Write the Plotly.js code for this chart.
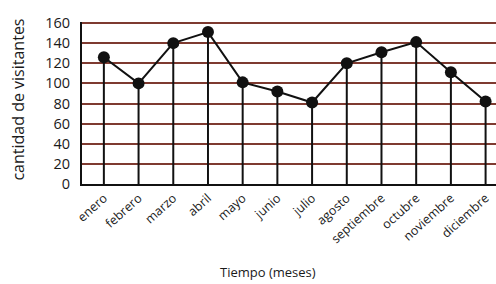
<!DOCTYPE html>
<html><head><meta charset="utf-8">
<script src="https://cdn.plot.ly/plotly-3.0.1.min.js"></script>
<style>html,body{margin:0;padding:0;background:#fff;}#chart{width:496px;height:284px;}</style>
</head><body><div id="chart"></div>
<script>
const months = ["enero","febrero","marzo","abril","mayo","junio","julio","agosto","septiembre","octubre","noviembre","diciembre"];
const visitors = [126, 100, 140, 151, 101, 92, 81, 120, 131, 141, 111, 82];
const yTicks = [0,20,40,60,80,100,120,140,160];

const idx = months.map((m,i)=>i);
const stems = {type:'scatter', mode:'none', x: idx, y: visitors, hoverinfo:'skip', showlegend:false,
  error_y:{type:'data', symmetric:false, array: visitors.map(()=>0), arrayminus: visitors, color:'#111', thickness:2, width:0}};
const line = {type:'scatter', mode:'lines+markers', x: idx, y: visitors,
  line:{color:'#111', width:2}, marker:{color:'#111', size:12}, showlegend:false};

const layout = {
  width:496, height:284,
  margin:{l:82, r:0, t:22, b:100},
  paper_bgcolor:'#fff', plot_bgcolor:'#fff',
  font:{family:'Open Sans, sans-serif', color:'#1a1a1a'},
  xaxis:{range:[-0.63, 11.3], tickmode:'array', tickvals: idx, ticktext: months,
    tickangle:-42, tickfont:{size:12.5}, showgrid:false, zeroline:false,
    showline:true, linecolor:'#111', linewidth:2, ticks:'', automargin:false},
  yaxis:{range:[0,161], tickmode:'array', tickvals: yTicks, ticktext: yTicks.map(String),
    tickfont:{size:14.5}, showgrid:true, gridcolor:'#7e3a30', gridwidth:2,
    zeroline:false, showline:true, linecolor:'#111', linewidth:2, ticks:'', ticklabelstandoff:7, automargin:false},
  annotations:[
    {text:'Tiempo (meses)', xref:'paper', yref:'paper', x:0.45, y:-0.545,
      showarrow:false, font:{size:13}, xanchor:'center', yanchor:'middle'},
    {text:'cantidad de visitantes', xref:'paper', yref:'paper', x:-0.155, y:0.52, textangle:-90,
      showarrow:false, font:{size:16}, xanchor:'center', yanchor:'middle'}
  ]
};
Plotly.newPlot('chart', [stems, line], layout, {staticPlot:true, displayModeBar:false});
</script></body></html>
